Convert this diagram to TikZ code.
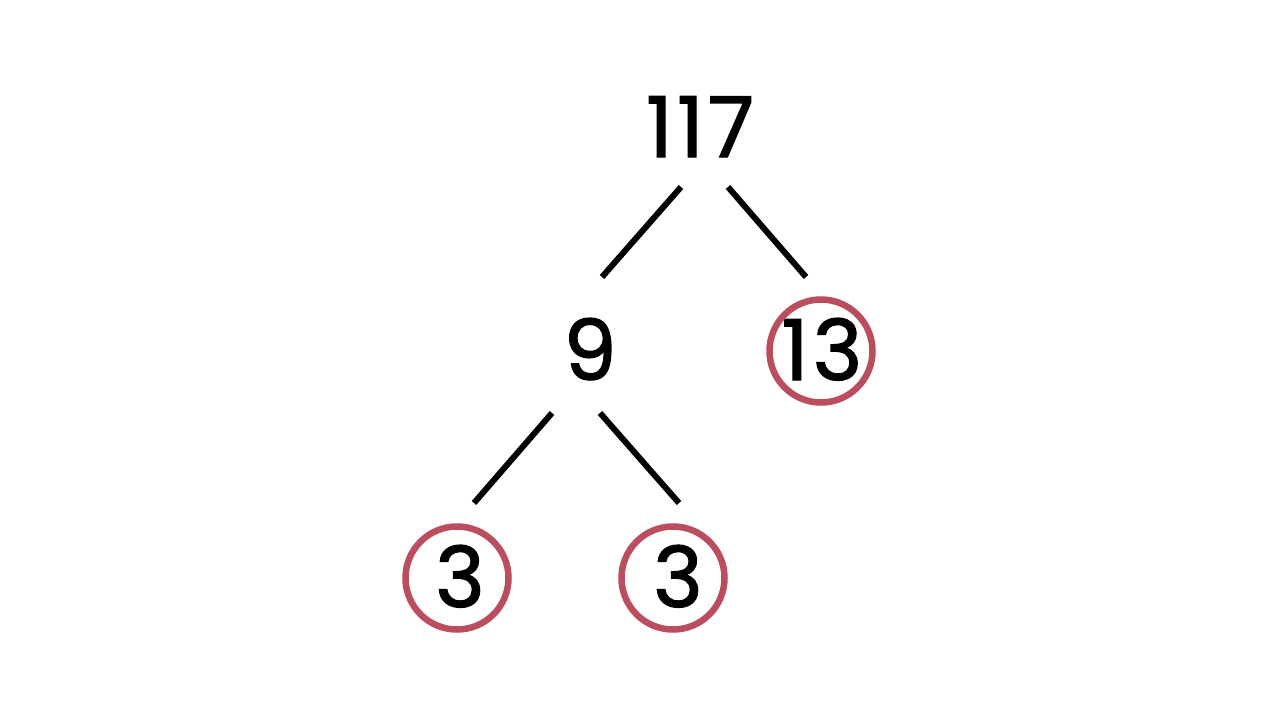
\documentclass[tikz,border=0pt]{standalone}
\usepackage{fontspec}
\setmainfont{Poppins}[FakeBold=1.6, LetterSpace=5]
\definecolor{ring}{RGB}{187,78,94}
\begin{document}
\begin{tikzpicture}[x=1pt,y=-1pt,
  num/.style={font=\fontsize{84}{90}\selectfont, anchor=base, inner sep=0pt},
  ring/.style={draw=ring, line width=6.5pt, circle, minimum size=103pt, inner sep=0pt},
  edge/.style={line width=6pt, black}]
\useasboundingbox (0,0) rectangle (1280,720);
\node[num] (n117) at (700,157) {117};
\node[num] (n9) at (590,380) {9};
\node[num] (n13) at (822,380) {13};
\node[num] (n3a) at (460,607) {3};
\node[num] (n3b) at (678,607) {3};
\node[ring] (c13) at (821,351) {};
\node[ring] (c3a) at (457,578) {};
\node[ring] (c3b) at (673,578) {};
\coordinate (a1) at (681,187); \coordinate (a2) at (602,277);
\coordinate (b1) at (728,187); \coordinate (b2) at (806,277);
\coordinate (c1) at (552,413); \coordinate (c2) at (474,503);
\coordinate (d1) at (600,413); \coordinate (d2) at (679,503);
\draw[edge] (a1) -- (a2);
\draw[edge] (b1) -- (b2);
\draw[edge] (c1) -- (c2);
\draw[edge] (d1) -- (d2);
\end{tikzpicture}
\end{document}
